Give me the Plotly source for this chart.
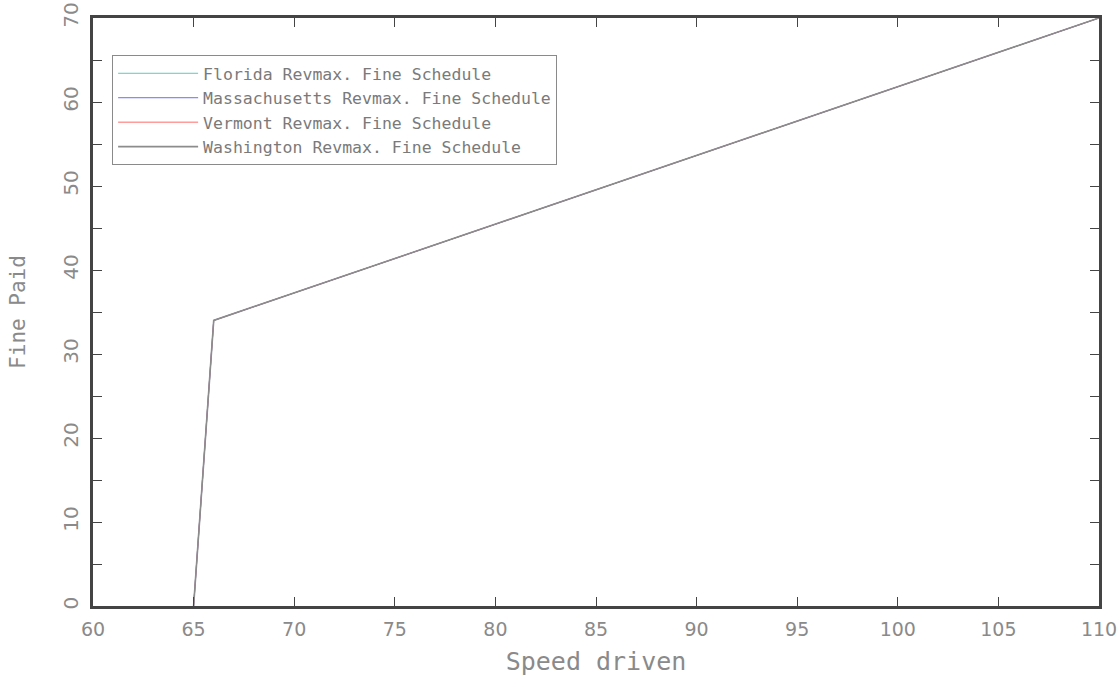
import plotly.graph_objects as go

speed = [65, 66, 110]
fine_florida = [0, 34, 70]
fine_massachusetts = [0, 34, 70]
fine_vermont = [0, 34, 70]
fine_washington = [0, 34, 70]

names = ["Florida Revmax. Fine Schedule", "Massachusetts Revmax. Fine Schedule",
         "Vermont Revmax. Fine Schedule", "Washington Revmax. Fine Schedule"]
series = [fine_florida, fine_massachusetts, fine_vermont, fine_washington]
colors = ["#5fc8bc", "#6a6aff", "#ff6a6a", "#8c8c8c"]
widths = [1, 1, 1, 1.6]

fig = go.Figure()
for n, s, c, w in zip(names, series, colors, widths):
    fig.add_trace(go.Scatter(x=speed, y=s, mode="lines", name=n,
                             line=dict(color=c, width=w)))

txt = "#8a8a8a"
axc = "#444444"
fig.update_layout(
    width=1120, height=687,
    margin=dict(l=93, r=21, t=18, b=81, autoexpand=False),
    paper_bgcolor="white", plot_bgcolor="white",
    font=dict(family="DejaVu Sans", color=txt, size=17),
    showlegend=True,
    legend=dict(x=0.019, y=0.937, xanchor="left", yanchor="top",
                bordercolor="#8a8a8a", borderwidth=1,
                font=dict(family="DejaVu Sans Mono", size=16.5, color="#7a7a7a"),
                tracegroupgap=0, itemwidth=80),
    xaxis=dict(range=[60, 110], dtick=5, tick0=60, automargin=False,
               showgrid=False, zeroline=False,
               showline=True, linecolor=axc, linewidth=3, mirror="ticks",
               ticks="inside", ticklen=9, tickcolor=axc, tickwidth=1,
               ticklabeloverflow="allow", ticklabelstandoff=4,
               tickfont=dict(size=19, color=txt),
               title=dict(text="Speed driven", font=dict(family="DejaVu Sans Mono", size=25, color=txt), standoff=14)),
    yaxis=dict(range=[0, 70], dtick=10, tick0=0, automargin=False,
               showgrid=False, zeroline=False,
               showline=True, linecolor=axc, linewidth=3, mirror="ticks",
               ticks="inside", ticklen=9, tickcolor=axc, tickwidth=1,
               tickangle=-90, ticklabeloverflow="allow", ticklabelstandoff=4,
               minor=dict(dtick=5, ticks="inside", ticklen=9, tickcolor=axc, tickwidth=1, showgrid=False),
               tickfont=dict(size=20, color=txt),
               title=dict(text="Fine Paid", font=dict(family="DejaVu Sans Mono", size=21, color=txt), standoff=28)),
)

fig.write_html("out.html")
